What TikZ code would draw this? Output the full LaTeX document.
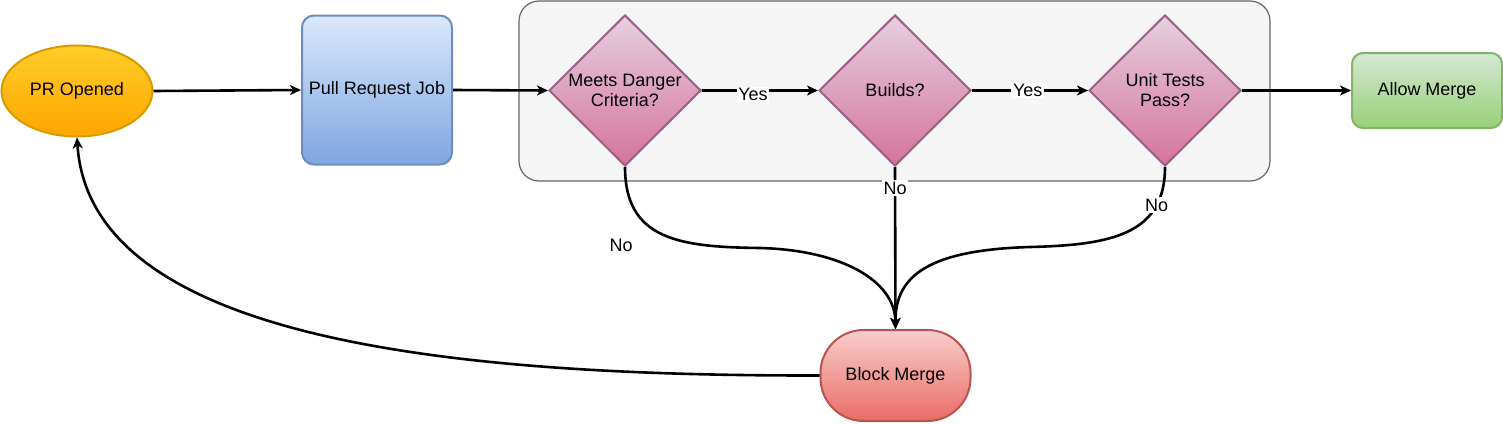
\documentclass[tikz,border=0pt]{standalone}
\usepackage{fontspec}
\setmainfont{Liberation Sans}
\usetikzlibrary{shapes.geometric,arrows.meta}
\definecolor{prtop}{HTML}{FFCD28}
\definecolor{prbot}{HTML}{FFA500}
\definecolor{prline}{HTML}{D79B00}
\definecolor{jobtop}{HTML}{DAE8FC}
\definecolor{jobbot}{HTML}{7EA6E0}
\definecolor{jobline}{HTML}{6C8EBF}
\definecolor{chktop}{HTML}{E6D0DE}
\definecolor{chkbot}{HTML}{D5739D}
\definecolor{chkline}{HTML}{996185}
\definecolor{oktop}{HTML}{D5E8D4}
\definecolor{okbot}{HTML}{97D077}
\definecolor{okline}{HTML}{82B366}
\definecolor{badtop}{HTML}{F8CECC}
\definecolor{badbot}{HTML}{EA6B66}
\definecolor{badline}{HTML}{B85450}
\definecolor{grpfill}{HTML}{F5F5F5}
\definecolor{grpline}{HTML}{666666}
\tikzset{shapebase/.style={draw,line width=1pt,text=black,align=center,inner sep=0pt}}

\begin{document}
\begin{tikzpicture}[x=0.5pt,y=-0.5pt,font=\fontsize{9}{10}\selectfont,
    >={Stealth[length=5.5pt,width=5pt,inset=1.5pt]},
    opened/.style={shapebase,ellipse,draw=prline,top color=prtop,bottom color=prbot,
        minimum width=75.5pt,minimum height=45.5pt},
    jobbox/.style={shapebase,rectangle,rounded corners=6pt,draw=jobline,top color=jobtop,
        bottom color=jobbot,minimum width=75pt,minimum height=74.5pt},
    decision/.style={shapebase,diamond,draw=chkline,top color=chktop,bottom color=chkbot,
        minimum width=76pt,minimum height=75.5pt},
    allowbox/.style={shapebase,rectangle,rounded corners=5.5pt,draw=okline,top color=oktop,
        bottom color=okbot,minimum width=75pt,minimum height=37.5pt},
    blockbox/.style={shapebase,rectangle,rounded corners=21.5pt,draw=badline,top color=badtop,
        bottom color=badbot,minimum width=75pt,minimum height=45.5pt},
    groupbox/.style={draw=grpline,fill=grpfill,line width=0.6pt,rounded corners=10pt,
        minimum width=375.5pt,minimum height=90pt},
    descr/.style={fill=white,inner sep=0.8pt}]
    \useasboundingbox (0,0) rectangle (1503,423);

    \node[groupbox] (grp) at (894.5,91) {};

    \node[opened] (pr) at (77,91) {PR Opened};
    \node[jobbox] (job) at (377,90) {Pull Request Job};
    \node[decision] (dc) at (625,90.5) {Meets Danger\\Criteria?};
    \node[decision] (bd) at (895,90.5) {Builds?};
    \node[decision] (ut) at (1165,90.5) {Unit Tests\\Pass?};
    \node[allowbox] (am) at (1427,90.5) {Allow Merge};
    \node[blockbox] (bm) at (895.5,375.5) {Block Merge};
    \node (nodc) at (621,245) {No};

    \path[->,line width=1.3pt]
    (pr.east) edge (job.west)
    (job.east) edge (dc.west)
    (dc.east) edge node[descr,pos=0.44,yshift=-2pt] {Yes} (bd.west)
    (bd.east) edge node[descr,pos=0.48] {Yes} (ut.west)
    (ut.east) edge (am.west)
    (bd.south) edge node[descr,pos=0.13] {No} (bm.north);

    \draw[->,line width=1.3pt] (dc.south) .. controls (625,240) and (680,247) .. (760,248)
        .. controls (840,250) and (895,280) .. (bm.north);
    \draw[->,line width=1.3pt] (ut.south) .. controls (1165,235) and (1110,245) ..
        node[descr,pos=0.23] {No} (1030,247)
        .. controls (930,250) and (895,275) .. (bm.north);
    \draw[->,line width=1.3pt] (bm.west) .. controls (450,376) and (90,340) .. (pr.south);
\end{tikzpicture}
\end{document}
